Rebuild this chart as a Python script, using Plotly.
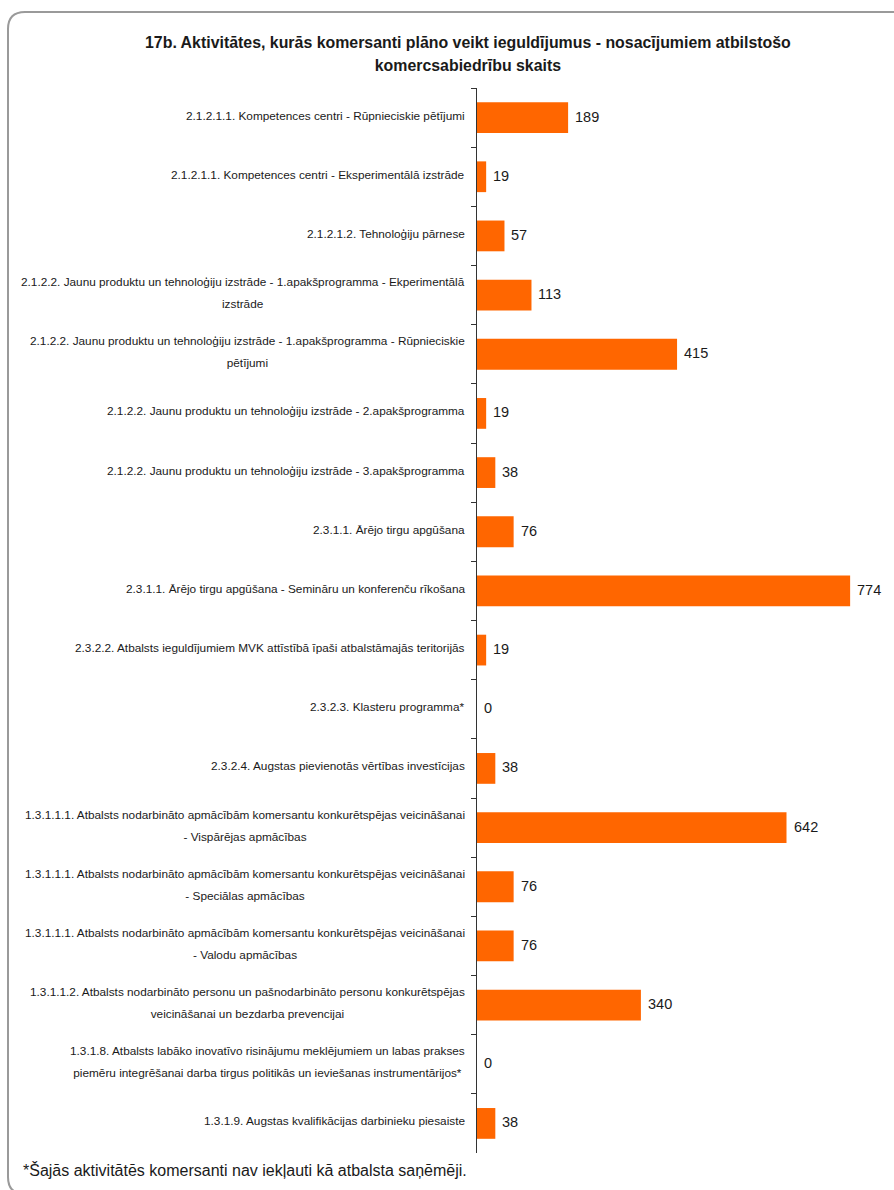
import plotly.graph_objects as go

title_text = ("17b. Aktivitātes, kurās komersanti plāno veikt ieguldījumus - nosacījumiem atbilstošo"
              "<br>komercsabiedrību skaits")
footnote_text = "*Šajās aktivitātēs komersanti nav iekļauti kā atbalsta saņēmēji."

categories = [
    "2.1.2.1.1. Kompetences centri - Rūpnieciskie pētījumi",
    "2.1.2.1.1. Kompetences centri - Eksperimentālā izstrāde",
    "2.1.2.1.2. Tehnoloģiju pārnese",
    "2.1.2.2. Jaunu produktu un tehnoloģiju izstrāde - 1.apakšprogramma - Ekperimentālā<br>izstrāde",
    "2.1.2.2. Jaunu produktu un tehnoloģiju izstrāde - 1.apakšprogramma - Rūpnieciskie<br>pētījumi",
    "2.1.2.2. Jaunu produktu un tehnoloģiju izstrāde - 2.apakšprogramma",
    "2.1.2.2. Jaunu produktu un tehnoloģiju izstrāde - 3.apakšprogramma",
    "2.3.1.1. Ārējo tirgu apgūšana",
    "2.3.1.1. Ārējo tirgu apgūšana - Semināru un konferenču rīkošana",
    "2.3.2.2. Atbalsts ieguldījumiem MVK attīstībā īpaši atbalstāmajās teritorijās",
    "2.3.2.3. Klasteru programma*",
    "2.3.2.4. Augstas pievienotās vērtības investīcijas",
    "1.3.1.1.1. Atbalsts nodarbināto apmācībām komersantu konkurētspējas veicināšanai<br>- Vispārējas apmācības",
    "1.3.1.1.1. Atbalsts nodarbināto apmācībām komersantu konkurētspējas veicināšanai<br>- Speciālas apmācības",
    "1.3.1.1.1. Atbalsts nodarbināto apmācībām komersantu konkurētspējas veicināšanai<br>- Valodu apmācības",
    "1.3.1.1.2. Atbalsts nodarbināto personu un pašnodarbināto personu konkurētspējas<br>veicināšanai un bezdarba prevencijai",
    "1.3.1.8. Atbalsts labāko inovatīvo risinājumu meklējumiem un labas prakses<br>piemēru integrēšanai darba tirgus politikās un ieviešanas instrumentārijos*",
    "1.3.1.9. Augstas kvalifikācijas darbinieku piesaiste",
]
values = [189, 19, 57, 113, 415, 19, 38, 76, 774, 19, 0, 38, 642, 76, 76, 340, 0, 38]

FONT = "Liberation Sans, Arial, sans-serif"
W, H = 894, 1190
ML, MR, MT, MB = 477, 0, 88, 37
PW = W - ML - MR
PH = H - MT - MB


def px_x(px):
    return (px - ML) / PW


def px_y(py):
    return (H - MB - py) / PH


fig = go.Figure()
fig.add_trace(go.Bar(
    x=values, y=categories, orientation="h",
    marker=dict(color="#FF6600", line=dict(width=0)),
    hoverinfo="skip",
))

LBL = 11.8
annotations = []
for c, v in zip(categories, values):
    span_open = f'<span style="font-size:{LBL}px">'
    annotations.append(dict(
        x=0, xref="paper", y=c, yref="y", xanchor="right", yanchor="middle",
        xshift=-10, yshift=2, align="center", showarrow=False,
        text=span_open + c.replace("<br>", "</span><br>" + span_open) + "</span>",
        font=dict(family=FONT, size=17, color="#1a1a1a"),
    ))
    annotations.append(dict(
        x=v, xref="x", y=c, yref="y", xanchor="left", yanchor="middle",
        xshift=5, yshift=1, showarrow=False, text=str(v),
        font=dict(family=FONT, size=14.5, color="#1a1a1a"),
    ))

t1, t2 = title_text.split("<br>")
annotations.append(dict(
    x=px_x(468), xref="paper", y=px_y(54), yref="paper",
    xanchor="center", yanchor="middle", showarrow=False, align="center",
    text=f'<b><span style="font-size:15.9px">{t1}</span></b><br><b><span style="font-size:15.9px">{t2}</span></b>',
    font=dict(family=FONT, size=17.5, color="#1a1a1a"),
))
annotations.append(dict(
    x=px_x(21), xref="paper", y=px_y(1170), yref="paper",
    xanchor="left", yanchor="middle", showarrow=False,
    text=footnote_text,
    font=dict(family=FONT, size=16, color="#1a1a1a"),
))

# rounded border (pixel coords converted to paper)
L, T, R, B, r = 8, 12, 905, 1194, 17
path = (f"M {px_x(L)},{px_y(B - r)} L {px_x(L)},{px_y(T + r)} "
        f"Q {px_x(L)},{px_y(T)} {px_x(L + r)},{px_y(T)} "
        f"L {px_x(R)},{px_y(T)} "
        f"M {px_x(L)},{px_y(B - r)} Q {px_x(L)},{px_y(B)} {px_x(L + r)},{px_y(B)} "
        f"L {px_x(R)},{px_y(B)}")

fig.update_layout(
    width=W, height=H,
    margin=dict(l=ML, r=MR, t=MT, b=MB, pad=0),
    paper_bgcolor="white", plot_bgcolor="white",
    showlegend=False, bargap=0.48,
    font=dict(family=FONT, color="#1a1a1a"),
    xaxis=dict(range=[0, 865], visible=False, fixedrange=True),
    yaxis=dict(
        type="category", autorange="reversed", showticklabels=False,
        showline=True, linecolor="#333333", linewidth=1,
        ticks="outside", ticklen=5, tickcolor="#333333", tickwidth=1,
        tickson="boundaries", showgrid=False, zeroline=False, fixedrange=True,
    ),
    annotations=annotations,
    shapes=[dict(type="path", xref="paper", yref="paper", path=path,
                 line=dict(color="#9a9a9a", width=2), layer="above")],
)

fig.write_html(
    "out.html",
    config={"displayModeBar": False},
    post_script="document.body.style.margin='0';document.body.style.overflow='hidden';",
)
